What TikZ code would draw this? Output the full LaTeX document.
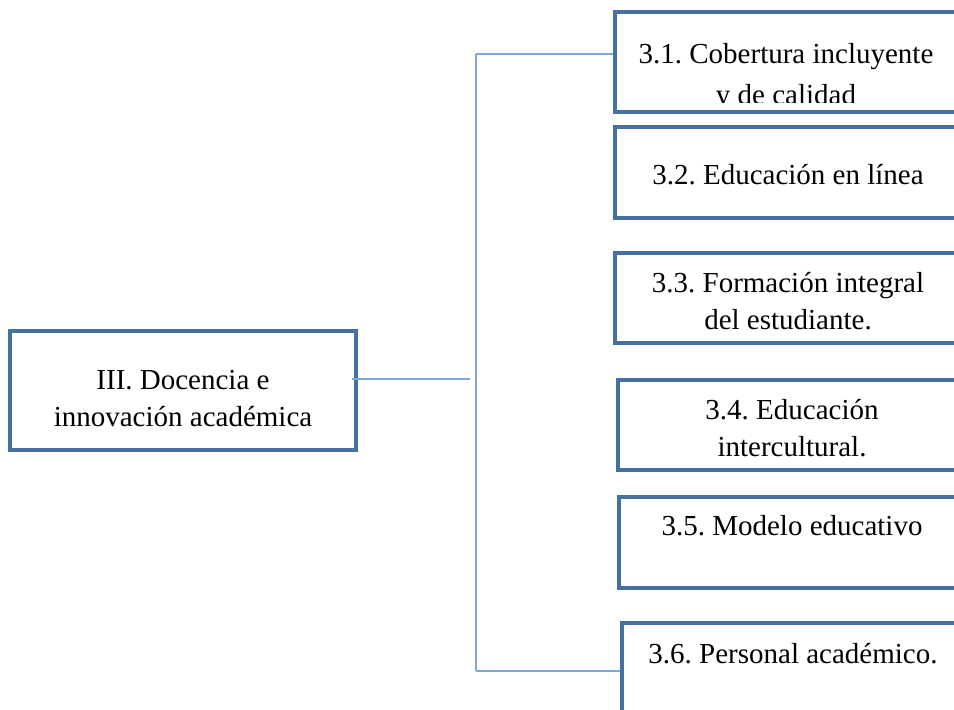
\documentclass[tikz,border=0pt]{standalone}
\usepackage{fontspec}
\setmainfont{Liberation Serif}
\frenchspacing
\definecolor{boxblue}{RGB}{69,113,160}
\definecolor{linkblue}{RGB}{122,168,220}
\begin{document}
\begin{tikzpicture}[x=1pt,y=-1pt,
  box/.style={draw=boxblue,line width=4pt,rectangle,inner sep=0pt,outer sep=0pt,anchor=north west,fill=white},
  rbox/.style={box,minimum width=400pt},
  label/.style={inner sep=0pt,outer sep=0pt,anchor=base,align=center,font=\fontsize{29}{37}\selectfont},
  link/.style={draw=linkblue,line width=1.8pt}]
\useasboundingbox (0,0) rectangle (954,710);
\clip (0,0) rectangle (954,710);
% boxes
\node[box,minimum width=346pt,minimum height=119pt] (main) at (10,331) {};
\node[rbox,minimum height=100pt] (b1) at (615,12) {};
\node[rbox,minimum height=91pt] (b2) at (615,127) {};
\node[rbox,minimum height=90pt] (b3) at (615,253) {};
\node[rbox,minimum height=90pt] (b4) at (618,380) {};
\node[rbox,minimum height=91pt] (b5) at (619,497) {};
\node[rbox,minimum height=150pt] (b6) at (622,623) {};
% texts (base anchor = baseline of last line)
\node[label] (tm) at (183,426) {III. Docencia e\\innovación académica};
\begin{scope}
  \clip (617,14) rectangle (954,102);
  \node[label,font=\fontsize{29}{41}\selectfont] (t1) at (786,104) {3.1. Cobertura incluyente\\y de calidad};
\end{scope}
\node[label] (t2) at (788,184) {3.2. Educación en línea};
\node[label] (t3) at (788,329) {3.3. Formación integral\\del estudiante.};
\node[label] (t4) at (792,456) {3.4. Educación\\intercultural.};
\node[label] (t5) at (792,535) {3.5. Modelo educativo};
\node[label] (t6) at (793,663) {3.6. Personal académico.};
% connectors
\coordinate (j) at (470,379);
\coordinate (top) at (476,54);
\coordinate (bot) at (476,671);
\draw[link] ([xshift=-4pt]main.east |- j) -- (j);
\draw[link] (top) -- (bot);
\draw[link] (top) -- ([xshift=-2pt]top -| b1.west);
\draw[link] (bot) -- ([xshift=-2pt]bot -| b6.west);
\end{tikzpicture}
\end{document}
